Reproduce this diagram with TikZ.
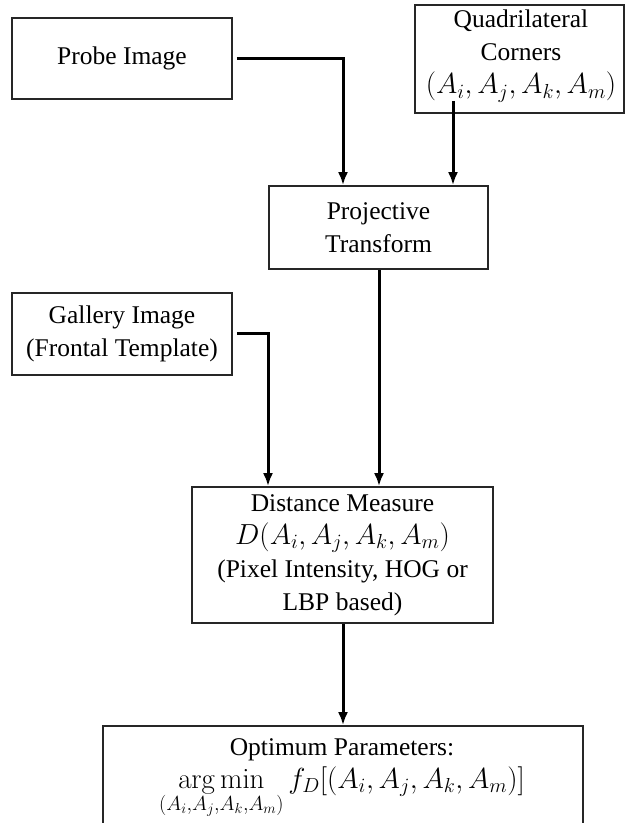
\RequirePackage{fix-cm}
\documentclass[tikz,border=0pt]{standalone}
\usepackage[no-math]{fontspec}
\setmainfont{Liberation Serif}
\usetikzlibrary{arrows.meta}
\newcommand{\bigmath}{\fontsize{29}{33}\selectfont}
\begin{document}
\begin{tikzpicture}[x=1pt,y=-1pt,
  every node/.style={font=\fontsize{25.5}{33}\selectfont, align=center, inner sep=0pt},
  box/.style={draw=black!85, line width=1.7pt, rectangle},
  arr/.style={line width=3pt, -{Latex[length=13pt,width=10pt]}}]
\useasboundingbox (0,0) rectangle (626,823);
\clip (0,0) rectangle (626,823);
\node[box, minimum width=220pt, minimum height=81pt] (probe) at (122,58.5) {Probe Image};
\node[box, minimum width=209pt, minimum height=108pt] (quad) at (519.5,59) {};
\node (quadtxt) at (521,56) {Quadrilateral\\Corners\\{\bigmath$(A_i,A_j,A_k,A_m)$}};
\node[box, minimum width=219pt, minimum height=83pt] (proj) at (378.5,227.5) {Projective\\Transform};
\node[box, minimum width=220pt, minimum height=82pt] (gal) at (122,334) {Gallery Image\\(Frontal Template)};
\node[box, minimum width=301pt, minimum height=136pt] (dist) at (342.5,555) {Distance Measure\\{\bigmath$D(A_i,A_j,A_k,A_m)$}\\(Pixel Intensity, HOG or\\LBP based)};
\node[box, minimum width=480pt, minimum height=130pt] (opt) at (343,791) {};
\node[anchor=north] (opttxt) at (342,738) {Optimum Parameters:\\
  {\bigmath$\displaystyle\mathop{\rm arg\,min}\limits_{(A_i,A_j,A_k,A_m)} f_D[(A_i,A_j,A_k,A_m)]$}};
\coordinate (xa) at (343,0);
\coordinate (xb) at (453,0);
\coordinate (xc) at (268,0);
\coordinate (xd) at (379,0);
\draw[arr] ([xshift=4pt]probe.east) -| (xa |- proj.north);
\draw[arr] ([yshift=13pt]quad.south -| xb) -- (xb |- proj.north);
\draw[arr] (proj.south -| xd) -- (xd |- dist.north);
\draw[arr] ([xshift=4pt,yshift=1pt]gal.east) -| (xc |- dist.north);
\draw[arr] (dist.south -| xa) -- (xa |- opt.north);
\end{tikzpicture}
\end{document}
